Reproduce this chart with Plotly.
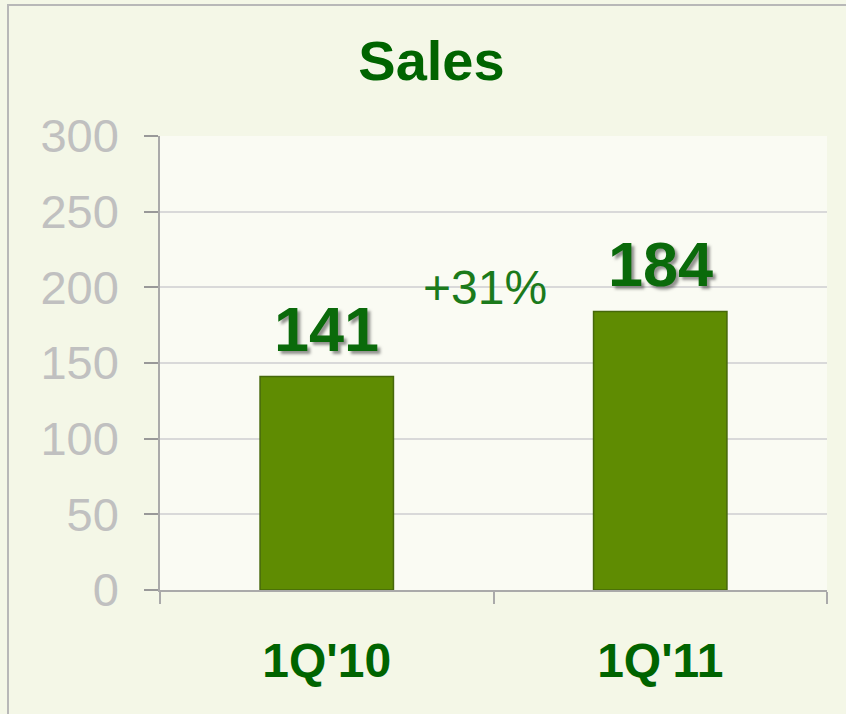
import plotly.graph_objects as go

categories = ["1Q'10", "1Q'11"]
sales = [141, 184]
growth_label = "+31%"
growth_y = 200
title_text = "Sales"
y_ticks = [0, 50, 100, 150, 200, 250, 300]

FONT = "Liberation Sans, Arial, sans-serif"
DARK_GREEN = "#006400"

fig = go.Figure()
fig.add_trace(go.Bar(
    x=categories,
    y=sales,
    width=0.4,
    marker=dict(color="#5f8c02", line=dict(color="#46680a", width=1.5)),
    hoverinfo="skip",
))

annotations = []
for c, v in zip(categories, sales):
    annotations.append(dict(
        x=c, y=v, xref="x", yref="y", text=f"<b>{v}</b>", showarrow=False,
        yanchor="bottom", yshift=11,
        font=dict(family=FONT, size=63, color="#0a6a0a",
                  shadow="3px 3px 3px rgba(60,60,60,0.55)"),
    ))
annotations.append(dict(
    x=0.5, y=growth_y, xref="x", yref="y", text=growth_label, showarrow=False,
    xshift=-9, yshift=0, yanchor="middle",
    font=dict(family=FONT, size=48, color="#1b7a1b"),
))

fig.update_layout(
    width=846, height=714,
    margin=dict(l=160, r=19, t=136, b=124),
    paper_bgcolor="#f4f7e7",
    plot_bgcolor="#fafbf3",
    showlegend=False,
    title=dict(text=f"<b>{title_text}</b>", x=0.51, xref="container", xanchor="center",
               y=1 - 60 / 714, yref="container", yanchor="middle",
               font=dict(family=FONT, size=56, color=DARK_GREEN)),
    annotations=annotations,
    xaxis=dict(
        type="category", tickson="boundaries", ticks="outside", ticklen=12,
        tickcolor="#aaaaaa", tickwidth=1.5,
        showline=True, linecolor="#aaaaaa", linewidth=1.5,
        showgrid=False, ticklabelstandoff=28,
        tickfont=dict(family=FONT, size=48, color=DARK_GREEN, weight="bold"),
        range=[-0.5, 1.5],
    ),
    yaxis=dict(
        range=[0, 300], tickvals=y_ticks, ticks="outside", ticklen=14,
        tickcolor="#999999", tickwidth=1.5,
        showline=True, linecolor="#aaaaaa", linewidth=1.5,
        showgrid=True, gridcolor="#d9d9d9", gridwidth=1.5,
        zeroline=False, ticklabelstandoff=16,
        tickfont=dict(family=FONT, size=47, color="#c0c0c0"),
    ),
    shapes=[dict(
        type="rect", xref="paper", yref="paper",
        x0=(8 - 160) / 667, x1=2, y0=-2, y1=(590 - 5) / 454,
        line=dict(color="#b8b8b8", width=2), fillcolor="rgba(0,0,0,0)", layer="below",
    )],
)

fig.write_html("out.html", config={"displayModeBar": False},
               post_script="document.body.style.margin='0';document.body.style.overflow='hidden';")
